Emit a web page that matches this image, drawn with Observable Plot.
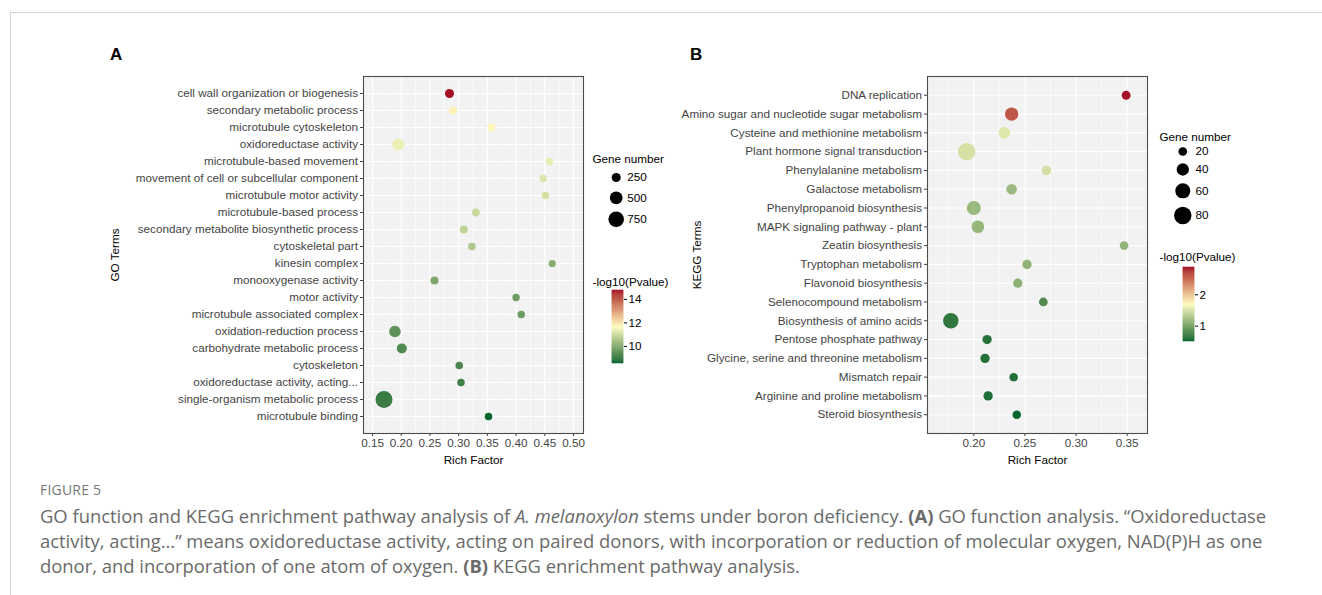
<!DOCTYPE html>
<html><head><meta charset="utf-8">
<script src="https://cdn.jsdelivr.net/npm/d3@7"></script>
<script src="https://cdn.jsdelivr.net/npm/@observablehq/plot@0.6"></script>
<style>
body{margin:0;background:#fff;}
#root{position:relative;width:1322px;height:595px;overflow:hidden;font-family:"Liberation Sans",Arial,sans-serif;background:#fff;}
.lbl{position:absolute;font-weight:bold;font-size:17px;color:#000;font-family:"Liberation Sans",Arial,sans-serif;}
.fig{position:absolute;left:40px;top:480px;font-family:"Open Sans",sans-serif;font-size:14px;color:#777;letter-spacing:0.2px;}
.cap{position:absolute;left:40px;top:503px;font-family:"Open Sans",sans-serif;font-size:18.4px;line-height:25px;color:#6a6a6a;white-space:nowrap;}
</style></head><body><div id="root"></div>
<script>
// ---------- Panel A: GO ----------
const goTerms = ["cell wall organization or biogenesis","secondary metabolic process","microtubule cytoskeleton","oxidoreductase activity","microtubule-based movement","movement of cell or subcellular component","microtubule motor activity","microtubule-based process","secondary metabolite biosynthetic process","cytoskeletal part","kinesin complex","monooxygenase activity","motor activity","microtubule associated complex","oxidation-reduction process","carbohydrate metabolic process","cytoskeleton","oxidoreductase activity, acting...","single-organism metabolic process","microtubule binding"];
const goRich = [0.284,0.290,0.357,0.195,0.458,0.447,0.451,0.330,0.309,0.323,0.463,0.258,0.400,0.409,0.189,0.201,0.301,0.304,0.170,0.352];
const goCount = [250,215,195,445,170,165,168,185,190,182,160,200,165,172,415,310,178,175,890,176];
const goLogP = [14.75,11.8,11.75,11.4,11.35,11.2,11.1,10.93,10.82,10.63,10.04,9.95,9.73,9.7,9.48,9.33,9.27,9.11,9.02,8.55];
const goXTicks = [0.15,0.20,0.25,0.30,0.35,0.40,0.45,0.50];
const goSizeBreaks = [250,500,750];
const goColorTicks = [10,12,14];

// ---------- Panel B: KEGG ----------
const keggTerms = ["DNA replication","Amino sugar and nucleotide sugar metabolism","Cysteine and methionine metabolism","Plant hormone signal transduction","Phenylalanine metabolism","Galactose metabolism","Phenylpropanoid biosynthesis","MAPK signaling pathway - plant","Zeatin biosynthesis","Tryptophan metabolism","Flavonoid biosynthesis","Selenocompound metabolism","Biosynthesis of amino acids","Pentose phosphate pathway","Glycine, serine and threonine metabolism","Mismatch repair","Arginine and proline metabolism","Steroid biosynthesis"];
const keggRich = [0.349,0.237,0.230,0.193,0.271,0.237,0.200,0.204,0.347,0.252,0.243,0.268,0.1775,0.213,0.211,0.239,0.214,0.242];
const keggCount = [21,47,36,80,24,30,52,42,20,23,23,20,63,23,23,19,23,19];
const keggLogP = [2.87,2.59,1.53,1.48,1.47,1.19,1.18,1.16,1.14,1.13,1.12,0.81,0.65,0.61,0.60,0.59,0.58,0.51];
const keggXTicks = [0.20,0.25,0.30,0.35];
const keggSizeBreaks = [20,40,60,80];
const keggColorTicks = [1,2];

const LOW = "#03652f", MID = "#fffcc0", HIGH = "#a50f28";
const FS = 11.7;

function colorOpts(lo, hi) {
  return {type: "linear", domain: [lo, (lo + hi) / 2, hi], range: [LOW, MID, HIGH], interpolate: "lab"};
}

function panel(cfg) {
  const data = cfg.terms.map((t, i) => ({term: t, rich: cfg.rich[i], count: cfg.count[i], logp: cfg.logp[i]}));
  const step = cfg.xTicks[1] - cfg.xTicks[0];
  const minor = [cfg.xTicks[0] - step / 2, ...cfg.xTicks.map(t => t + step / 2)]
    .filter(v => v > cfg.xDomain[0] && v < cfg.xDomain[1]);
  const cdom = [d3.min(cfg.logp), d3.max(cfg.logp)];
  const L = cfg.legend;
  const legendMarks = [
    Plot.text([cfg.sizeTitle], {text: d => d, frameAnchor: "top-right", textAnchor: "start", lineAnchor: "middle", dx: L.titleDx, dy: L.sizeTitleDy, fill: "#000", fontSize: FS})
  ];
  cfg.sizeBreaks.forEach((b, i) => {
    legendMarks.push(Plot.dot([b], {r: d => d, fill: "#000", frameAnchor: "top-right", dx: L.dotDx, dy: L.dotDy[i]}));
    legendMarks.push(Plot.text([b], {text: d => String(d), frameAnchor: "top-right", textAnchor: "start", lineAnchor: "middle", dx: L.labDx, dy: L.dotDy[i], fill: "#000", fontSize: FS}));
  });
  legendMarks.push(Plot.text([cfg.colorTitle], {text: d => d, frameAnchor: "top-right", textAnchor: "start", lineAnchor: "middle", dx: L.titleDx, dy: L.colorTitleDy, fill: "#000", fontSize: FS}));

  return Plot.plot({
    width: cfg.width, height: 480,
    marginLeft: cfg.marginLeft, marginRight: cfg.marginRight, marginTop: 76, marginBottom: 47,
    style: {fontFamily: "Liberation Sans, Arial, sans-serif", fontSize: FS + "px", color: "#444", background: "transparent", overflow: "visible"},
    x: {domain: cfg.xDomain, ticks: cfg.xTicks, tickFormat: ".2f", tickSize: 3, tickPadding: 2, label: null},
    y: {type: "point", domain: cfg.terms, padding: 1, round: false, tickSize: 3, tickPadding: 2.5, label: null},
    r: {type: "sqrt", domain: [0, cfg.rMaxValue], range: [0, cfg.rMax]},
    color: colorOpts(cdom[0], cdom[1]),
    marks: [
      Plot.frame({fill: "#f2f2f2", stroke: "none"}),
      Plot.ruleX(minor, {x: d => d, stroke: "#fff", strokeWidth: 0.55}),
      Plot.ruleX(cfg.xTicks, {x: d => d, stroke: "#fff", strokeWidth: 1.1}),
      Plot.ruleY(cfg.terms, {y: d => d, stroke: "#fff", strokeWidth: 1.1}),
      Plot.dot(data, {x: "rich", y: "term", r: "count", fill: "logp", stroke: "none"}),
      Plot.frame({stroke: "#4d4d4d", strokeWidth: 1.1}),
      Plot.text([cfg.xTitle], {text: d => d, frameAnchor: "bottom", textAnchor: "middle", lineAnchor: "middle", dy: 27, fill: "#000", fontSize: FS}),
      Plot.text([cfg.yTitle], {text: d => d, frameAnchor: "left", textAnchor: "middle", lineAnchor: "middle", dx: cfg.yTitleDx, rotate: -90, fill: "#000", fontSize: FS}),
      ...legendMarks
    ]
  });
}

function colorbar(lo, hi, ticks, barH) {
  const n = 80;
  const st = (hi - lo) / n;
  const ramp = d3.range(n).map(i => lo + st * (i + 0.5));
  return Plot.plot({
    width: 11 + 40, height: barH + 20,
    marginTop: 10, marginBottom: 10, marginLeft: 0, marginRight: 40,
    style: {fontFamily: "Liberation Sans, Arial, sans-serif", fontSize: FS + "px", color: "#000", background: "transparent", overflow: "visible"},
    x: {domain: [0, 1], axis: null},
    y: {domain: [lo, hi], ticks: ticks, tickSize: 3, tickPadding: 2, axis: "right", label: null, tickFormat: d => String(d)},
    color: colorOpts(lo, hi),
    marks: [
      Plot.rect(ramp, {x1: 0, x2: 1, y1: d => d - st / 2, y2: d => d + st / 2, fill: d => d, stroke: d => d, strokeWidth: 0.6})
    ]
  });
}

const root = document.getElementById("root");
function place(el, left, top) { el.style.position = "absolute"; el.style.left = left + "px"; el.style.top = top + "px"; root.appendChild(el); }

const topLine = document.createElement("div");
topLine.style.cssText = "position:absolute;left:10px;top:12px;width:1312px;height:1px;background:#d4d4d4;";
root.appendChild(topLine);
const leftLine = document.createElement("div");
leftLine.style.cssText = "position:absolute;left:10px;top:12px;width:1px;height:583px;background:#d4d4d4;";
root.appendChild(leftLine);

const pA = panel({
  terms: goTerms, rich: goRich, count: goCount, logp: goLogP,
  xDomain: [0.1343, 0.5174], xTicks: goXTicks,
  width: 700, marginLeft: 363, marginRight: 117,
  rMaxValue: 890, rMax: 8.5,
  xTitle: "Rich Factor", yTitle: "GO Terms", yTitleDx: -248,
  sizeTitle: "Gene number", colorTitle: "-log10(Pvalue)", sizeBreaks: goSizeBreaks,
  legend: {titleDx: 9, sizeTitleDy: 83, dotDx: 32.7, labDx: 43.7, dotDy: [101, 121.3, 142.7], colorTitleDy: 206}
});
place(pA, 0, 0);
place(colorbar(d3.min(goLogP), d3.max(goLogP), goColorTicks, 73), 612, 280);

const pB = panel({
  terms: keggTerms, rich: keggRich, count: keggCount, logp: keggLogP,
  xDomain: [0.1547, 0.3699], xTicks: keggXTicks,
  width: 662, marginLeft: 267, marginRight: 175,
  rMaxValue: 80, rMax: 8.7,
  xTitle: "Rich Factor", yTitle: "KEGG Terms", yTitleDx: -230,
  sizeTitle: "Gene number", colorTitle: "-log10(Pvalue)", sizeBreaks: keggSizeBreaks,
  legend: {titleDx: 12, sizeTitleDy: 60.7, dotDx: 35.3, labDx: 48, dotDy: [75, 93, 114.3, 139], colorTitleDy: 181}
});
place(pB, 660, 0);
place(colorbar(d3.min(keggLogP), d3.max(keggLogP), keggColorTicks, 74), 1183, 257);

const la = document.createElement("div"); la.className = "lbl"; la.textContent = "A"; place(la, 110, 45);
const lb = document.createElement("div"); lb.className = "lbl"; lb.textContent = "B"; place(lb, 690, 45);

const fig = document.createElement("div"); fig.className = "fig"; fig.textContent = "FIGURE 5"; root.appendChild(fig);
const cap = document.createElement("div"); cap.className = "cap";
cap.innerHTML = "GO function and KEGG enrichment pathway analysis of <i>A. melanoxylon</i> stems under boron deficiency. <b>(A)</b> GO function analysis. \u201cOxidoreductase<br>activity, acting\u2026\u201d means oxidoreductase activity, acting on paired donors, with incorporation or reduction of molecular oxygen, NAD(P)H as one<br>donor, and incorporation of one atom of oxygen. <b>(B)</b> KEGG enrichment pathway analysis.";
root.appendChild(cap);
</script>
</body></html>
